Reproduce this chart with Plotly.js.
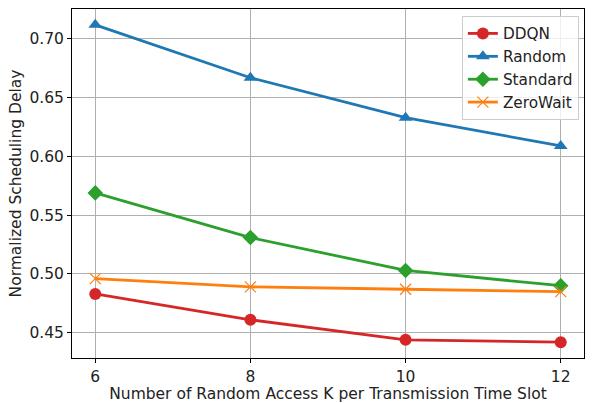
<!DOCTYPE html>
<html>
<head>
<meta charset="utf-8">
<script src="https://cdn.plot.ly/plotly-3.0.1.min.js"></script>
<style>html,body{margin:0;padding:0;background:#fff;}#chart{width:598px;height:403px;}</style>
</head>
<body>
<div id="chart"></div>
<script>
const xK = [6, 8, 10, 12];
const ddqn = [0.483, 0.461, 0.444, 0.442];
const randomS = [0.712, 0.667, 0.633, 0.609];
const standard = [0.569, 0.531, 0.503, 0.490];
const zeroWait = [0.496, 0.489, 0.487, 0.485];
const seriesNames = ["DDQN", "Random", "Standard", "ZeroWait"];
const yTicks = [0.45, 0.50, 0.55, 0.60, 0.65, 0.70];
const xTicks = [6, 8, 10, 12];

const colors = ["#d62728", "#1f77b4", "#2ca02c", "#ff7f0e"];
const symbols = ["circle", "triangle-up", "diamond", "x-thin-open"];
const sizes = [12, 12, 12, 11];
const data = [ddqn, randomS, standard, zeroWait].map((ys, i) => ({
  x: xK, y: ys, name: seriesNames[i], type: "scatter", mode: "lines+markers",
  line: {color: colors[i], width: 2.8},
  marker: {color: colors[i], symbol: symbols[i], size: sizes[i], line: {color: colors[i], width: i === 3 ? 1.2 : 0}}
}));

const fs = 15.5;
const font = {family: "DejaVu Sans, sans-serif", size: fs, color: "#222"};
const layout = {
  width: 598, height: 403,
  margin: {l: 72, r: 14, t: 9, b: 45},
  paper_bgcolor: "#fff", plot_bgcolor: "#fff",
  font: font,
  showlegend: true,
  legend: {x: 0.99, y: 0.98, xanchor: "right", yanchor: "top",
    bgcolor: "rgba(255,255,255,0.8)", bordercolor: "#cccccc", borderwidth: 1,
    font: {family: "DejaVu Sans, sans-serif", size: 15.3, color: "#222"}, tracegroupgap: 0},
  xaxis: {range: [5.7, 12.3], tickvals: xTicks, ticktext: xTicks.map(String),
    showgrid: true, gridcolor: "#b0b0b0", gridwidth: 1,
    showline: true, linecolor: "#000", linewidth: 1, mirror: true,
    ticks: "outside", ticklen: 4, tickcolor: "#000", zeroline: false,
    tickfont: {size: fs},
    title: {text: "Number of Random Access K per Transmission Time Slot", font: {size: fs}, standoff: 3}},
  yaxis: {range: [0.4285, 0.7255], tickvals: yTicks, ticktext: yTicks.map(v => v.toFixed(2)),
    showgrid: true, gridcolor: "#b0b0b0", gridwidth: 1,
    showline: true, linecolor: "#000", linewidth: 1, mirror: true,
    ticks: "outside", ticklen: 4, tickcolor: "#000", zeroline: false,
    tickfont: {size: fs},
    title: {text: "Normalized Scheduling Delay", font: {size: fs}, standoff: 3}}
};
Plotly.newPlot("chart", data, layout, {staticPlot: true, displayModeBar: false});
</script>
</body>
</html>
